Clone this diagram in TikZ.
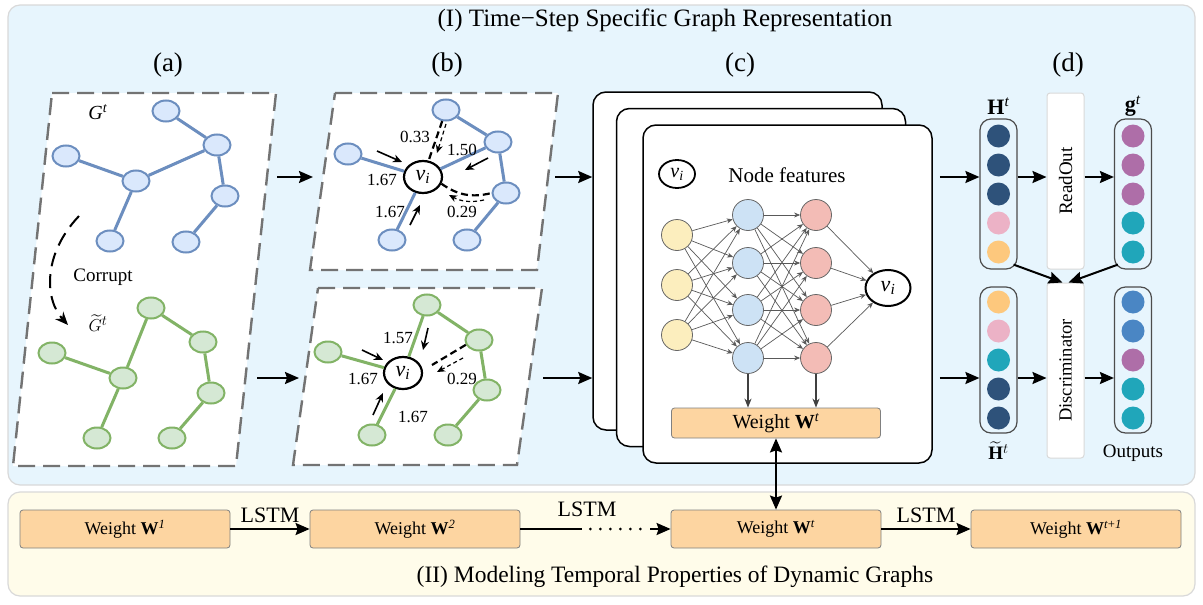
\documentclass[tikz,border=0pt]{standalone}
\usepackage{fontspec}
\setmainfont{Liberation Serif}
\usepackage{amsmath,amssymb}
\usepackage{xcolor}
\usepackage{tikz}
\usetikzlibrary{arrows.meta,positioning,shapes.geometric,calc}
\definecolor{panelblue}{RGB}{231,245,253}
\definecolor{panelcream}{RGB}{255,252,234}
\definecolor{nodeblue}{RGB}{218,232,252}
\definecolor{edgeblue}{RGB}{108,142,191}
\definecolor{nodegreen}{RGB}{213,232,212}
\definecolor{edgegreen}{RGB}{130,179,102}
\definecolor{nnyellow}{RGB}{252,238,190}
\definecolor{nnblue}{RGB}{205,226,245}
\definecolor{nnred}{RGB}{243,188,182}
\definecolor{weightorange}{RGB}{253,213,161}
\definecolor{dotnavy}{RGB}{46,82,122}
\definecolor{dotpink}{RGB}{236,178,198}
\definecolor{dotorange}{RGB}{253,200,125}
\definecolor{dotpurple}{RGB}{174,110,168}
\definecolor{dotteal}{RGB}{32,166,186}
\definecolor{dotblue}{RGB}{74,134,196}
\newcommand{\vnode}{\textit{v}\textsubscript{\textit{i}}}
\newcommand{\fsz}[1]{\fontsize{#1}{#1}\selectfont}

\begin{document}
\begin{tikzpicture}[x=1pt, y=-1pt,
  panel/.style={draw=black!15, line width=1.2pt, rounded corners=12pt, inner sep=0pt},
  dframe/.style={draw=black!55, fill=white, line width=2.4pt, dash pattern=on 17pt off 8pt},
  gnode/.style={ellipse, line width=2pt, minimum width=27pt, minimum height=21pt, inner sep=0pt},
  bnode/.style={gnode, draw=edgeblue, fill=nodeblue},
  cnode/.style={gnode, draw=edgegreen, fill=nodegreen},
  bedge/.style={edgeblue, line width=3pt},
  cedge/.style={edgegreen, line width=3pt},
  vnd/.style={ellipse, draw, fill=white, line width=2.2pt, minimum width=38pt, minimum height=32pt, inner sep=0pt, font=\fsz{22}},
  arrow/.style={-{Stealth[length=14pt, width=12pt, inset=2pt]}, line width=2pt},
  hint/.style={-{Stealth[length=9pt, width=8pt]}, line width=1.6pt},
  thdash/.style={line width=2.2pt, dash pattern=on 7pt off 4pt},
  tndash/.style={-{Stealth[length=8pt, width=7pt]}, line width=1.2pt, dash pattern=on 4pt off 3pt},
  num/.style={font=\fsz{17}},
  card/.style={draw, fill=white, line width=1.5pt, rounded corners=13pt, minimum width=289pt, minimum height=338pt},
  neuron/.style={circle, draw=black!60, line width=0.8pt, minimum size=31pt, inner sep=0pt},
  link/.style={black!65, line width=0.7pt, -{Stealth[length=6pt, width=5pt]}},
  weight/.style={draw=black!50, fill=weightorange, line width=0.8pt, rounded corners=3pt, minimum width=210pt, minimum height=38pt, font=\fsz{18}},
  column/.style={draw=black!70, line width=1.2pt, rounded corners=11pt, minimum width=37pt, inner sep=0pt},
  ball/.style={circle, minimum size=23pt, inner sep=0pt},
  ops/.style={draw=black!15, fill=white, line width=1pt, rounded corners=3pt, minimum width=37pt, inner sep=0pt},
  lbl/.style={font=\fsz{27}}
]
\useasboundingbox (0,0) rectangle (1203,605);
% Panels
\node[panel, fill=panelblue, minimum width=1187pt, minimum height=480pt] (topp) at (601.5,245) {};
\node[panel, fill=panelcream, minimum width=1187pt, minimum height=104pt] (botp) at (601.5,544) {};
\node[font=\fsz{25}] (title1) at (665,20) {(I) Time−Step Specific Graph Representation};
\node[font=\fsz{23.5}] (title2) at (675,577) {(II) Modeling Temporal Properties of Dynamic Graphs};
\node[lbl] at (168,65) {(a)};
\node[lbl] at (447,65) {(b)};
\node[lbl] at (740,65) {(c)};
\node[lbl] at (1068,65) {(d)};
\coordinate (toprow) at (0,177);
\coordinate (botrow) at (0,378);

% (a)
\draw[dframe] (52,93) -- (276,93) -- (236,466) -- (13,466) -- cycle;
\node[bnode] (a1) at (166,111) {};
\node[bnode] (a2) at (217,145) {};
\node[bnode] (a3) at (66,156) {};
\node[bnode] (a4) at (136,181) {};
\node[bnode] (a5) at (225,196) {};
\node[bnode] (a6) at (110,241) {};
\node[bnode] (a7) at (186,242) {};
\foreach \u/\v in {a1/a2, a2/a4, a3/a4, a4/a6, a2/a5, a5/a7} \draw[bedge] (\u) -- (\v);
\node[font=\fsz{20}] (gt) at (98,112) {\textit{G}\textsuperscript{\textit{t}}};
\node[cnode] (c1) at (151,308) {};
\node[cnode] (c2) at (203,342) {};
\node[cnode] (c3) at (52,353) {};
\node[cnode] (c4) at (123,378) {};
\node[cnode] (c5) at (211,393) {};
\node[cnode] (c6) at (97,438) {};
\node[cnode] (c7) at (172,438) {};
\foreach \u/\v in {c1/c2, c1/c4, c3/c4, c4/c6, c2/c5, c5/c7} \draw[cedge] (\u) -- (\v);
\node[font=\fsz{19}, inner sep=1pt] (gct) at (98,323) {$\widetilde{G}^{t}$};
\node[font=\fsz{19}] (corrupt) at (103,277) {Corrupt};
\draw[-{Stealth[length=13pt, width=11pt]}, line width=2pt, dash pattern=on 14pt off 8pt] (79,216) .. controls (42,255) and (45,300) .. (68,325);

% (b) attention on the clean graph
\draw[dframe] (335,93) -- (558,93) -- (537,270) -- (310,270) -- cycle;
\node[vnd] (vi1) at (423,177) {\vnode};
\node[bnode] (b1) at (446,110) {};
\node[bnode] (b2) at (498,142) {};
\node[bnode] (b3) at (348,154) {};
\node[bnode] (b4) at (506,193) {};
\node[bnode] (b5) at (392,240) {};
\node[bnode] (b6) at (467,240) {};
\foreach \u/\v in {b1/b2, b3/vi1, b2/vi1, vi1/b5, b2/b4, b4/b6} \draw[bedge] (\u) -- (\v);
\draw[thdash] (b1) -- (vi1);
\draw[thdash] (vi1.-20) to[bend right=25] (b4.west);
\draw[tndash] (446,124) -- (437,153);
\draw[tndash] (484,200) to[bend left=20] (449,195);
\draw[hint] (377,151) -- (402,162);
\draw[hint] (488,158) -- (465,170);
\draw[hint] (410,225) -- (420,205);
\node[num] at (415,137) {0.33};
\node[num] at (462,150) {1.50};
\node[num] at (382,180) {1.67};
\node[num] at (390,212) {1.67};
\node[num] at (462,212) {0.29};

% (b) attention on the corrupted graph
\draw[dframe] (318,288) -- (542,288) -- (517,465) -- (293,465) -- cycle;
\node[vnd] (vi2) at (403,373) {\vnode};
\node[cnode] (d1) at (427,305) {};
\node[cnode] (d2) at (479,340) {};
\node[cnode] (d3) at (328,352) {};
\node[cnode] (d4) at (487,390) {};
\node[cnode] (d5) at (372,435) {};
\node[cnode] (d6) at (448,435) {};
\foreach \u/\v in {d1/d2, d1/vi2, d3/vi2, vi2/d5, d2/d4, d4/d6} \draw[cedge] (\u) -- (\v);
\draw[thdash] (d2.200) -- (432,365);
\draw[tndash] (463,358) -- (437,372);
\draw[hint] (362,350) -- (383,360);
\draw[hint] (428,328) -- (423,350);
\draw[hint] (373,415) -- (383,393);
\node[num] at (398,338) {1.57};
\node[num] at (363,379) {1.67};
\node[num] at (413,417) {1.67};
\node[num] at (462,379) {0.29};

% (c) stacked encoders
\node[card] (card1) at (737.5,261) {};
\node[card] (card2) at (761,277.5) {};
\node[card] (card3) at (787.5,294) {};
\node[vnd, minimum width=36pt, minimum height=28pt, line width=1.8pt, font=\fsz{20}] (vi3) at (677,174) {\vnode};
\node[font=\fsz{21}] (feat) at (787,175) {Node features};
\foreach \y [count=\i] in {235,285,335} \node[neuron, fill=nnyellow] (x\i) at (677,\y) {};
\foreach \y [count=\i] in {215,263,310,358} \node[neuron, fill=nnblue] (h\i) at (748,\y) {};
\foreach \y [count=\i] in {215,263,310,358} \node[neuron, fill=nnred] (r\i) at (816,\y) {};
\node[vnd, minimum width=45pt, minimum height=36pt, line width=2pt] (vo) at (888,288) {\vnode};
\foreach \i in {1,2,3} \foreach \j in {1,...,4} \draw[link] (x\i) -- (h\j);
\foreach \i in {1,...,4} \foreach \j in {1,...,4} \draw[link] (h\i) -- (r\j);
\foreach \i in {1,...,4} \draw[link] (r\i) -- (vo);
\node[weight, minimum width=209pt, minimum height=30pt, font=\fsz{20}] (wt) at (776,423) {Weight \textbf{W}\textsuperscript{\textit{t}}};
\draw[-{Stealth[length=9pt, width=7pt]}, line width=1.5pt, black!75] (h4) -- (h4 |- wt.north);
\draw[-{Stealth[length=9pt, width=7pt]}, line width=1.5pt, black!75] (r4) -- (r4 |- wt.north);

% (d) readout and discriminator
\node[column, minimum height=150pt] (hcol) at (998.5,194) {};
\node[column, minimum height=150pt] (gcol) at (1133,194) {};
\node[column, minimum height=146pt] (htcol) at (998.5,360) {};
\node[column, minimum height=146pt] (ocol) at (1133,360) {};
\foreach \c [count=\i] in {dotnavy,dotnavy,dotnavy,dotpink,dotorange} \node[ball, fill=\c] (hd\i) at (998.5,{107+29*\i}) {};
\foreach \c [count=\i] in {dotpurple,dotpurple,dotpurple,dotteal,dotteal} \node[ball, fill=\c] (gd\i) at (1133,{107+29*\i}) {};
\foreach \c [count=\i] in {dotorange,dotpink,dotteal,dotnavy,dotnavy} \node[ball, fill=\c] (td\i) at (998.5,{273+29*\i}) {};
\foreach \c [count=\i] in {dotblue,dotblue,dotpurple,dotteal,dotteal} \node[ball, fill=\c] (od\i) at (1133,{273+29*\i}) {};
\node[font=\fsz{22}] at (998.5,106) {\textbf{H}\textsuperscript{\textit{t}}};
\node[font=\fsz{22}] at (1133,106) {\textbf{g}\textsuperscript{\textit{t}}};
\node[font=\fsz{19}, inner sep=1pt] at (998.5,451) {$\widetilde{\mathbf{H}}^{t}$};
\node[font=\fsz{19}] at (1133,453) {Outputs};
\node[ops, minimum height=176pt] (readout) at (1065.5,181) {};
\node[rotate=90, font=\fsz{19}] at (readout) {ReadOut};
\node[ops, minimum height=175pt] (disc) at (1065.5,370.5) {};
\node[rotate=90, font=\fsz{18.5}] at (disc) {Discriminator};

% Arrows between panels
\coordinate (aout1) at (277,177);
\coordinate (bin1) at (313,177);
\coordinate (aout2) at (257,378);
\coordinate (bin2) at (299,378);
\coordinate (bout1) at (555,177);
\coordinate (bout2) at (543,378);
\draw[arrow] (aout1) -- (bin1);
\draw[arrow] (aout2) -- (bin2);
\draw[arrow] (bout1) -- (card1.west |- bout1);
\draw[arrow] (bout2) -- (card1.west |- bout2);
\draw[arrow] ($(card3.east |- toprow)+(7,0)$) -- (hcol.west |- toprow);
\draw[arrow] ($(card3.east |- botrow)+(7,0)$) -- (htcol.west |- botrow);
\draw[arrow] (hcol.east |- toprow) -- (readout.west |- toprow);
\draw[arrow] (readout.east |- toprow) -- (gcol.west |- toprow);
\draw[arrow] (htcol.east |- botrow) -- (disc.west |- botrow);
\draw[arrow] (disc.east |- botrow) -- (ocol.west |- botrow);
\draw[arrow] ($(hcol.south east)+(-4,-5)$) -- ([xshift=-3pt]disc.north);
\draw[arrow] ($(gcol.south west)+(4,-5)$) -- ([xshift=3pt]disc.north);

% (II) temporal chain
\node[weight] (w1) at (125,529) {Weight \textbf{W}\textsuperscript{\textit{1}}};
\node[weight] (w2) at (415,529) {Weight \textbf{W}\textsuperscript{\textit{2}}};
\node[weight] (wtb) at (776,529) {Weight \textbf{W}\textsuperscript{\textit{t}}};
\node[weight] (wnext) at (1076,529) {Weight \textbf{W}\textsuperscript{\textit{t}+\textit{1}}};
\draw[arrow] (w1) -- (w2) node[midway, above=2pt, font=\fsz{22}] {LSTM};
\draw[line width=2pt] (w2.east) -- ++(62,0) coordinate (dotsa);
\draw[line width=3pt, line cap=round, dash pattern=on 0pt off 10pt] ($(dotsa)+(8,0)$) -- ++(52,0) coordinate (dotsb);
\draw[arrow] ($(dotsb)+(8,0)$) -- (wtb.west);
\node[font=\fsz{22}] at (587,509) {LSTM};
\draw[arrow] (wtb) -- (wnext) node[midway, above=2pt, font=\fsz{22}] {LSTM};
\draw[{Stealth[length=14pt, width=12pt, inset=2pt]}-{Stealth[length=14pt, width=12pt, inset=2pt]}, line width=2pt] (wt.south) -- (wtb.north);
\end{tikzpicture}
\end{document}
